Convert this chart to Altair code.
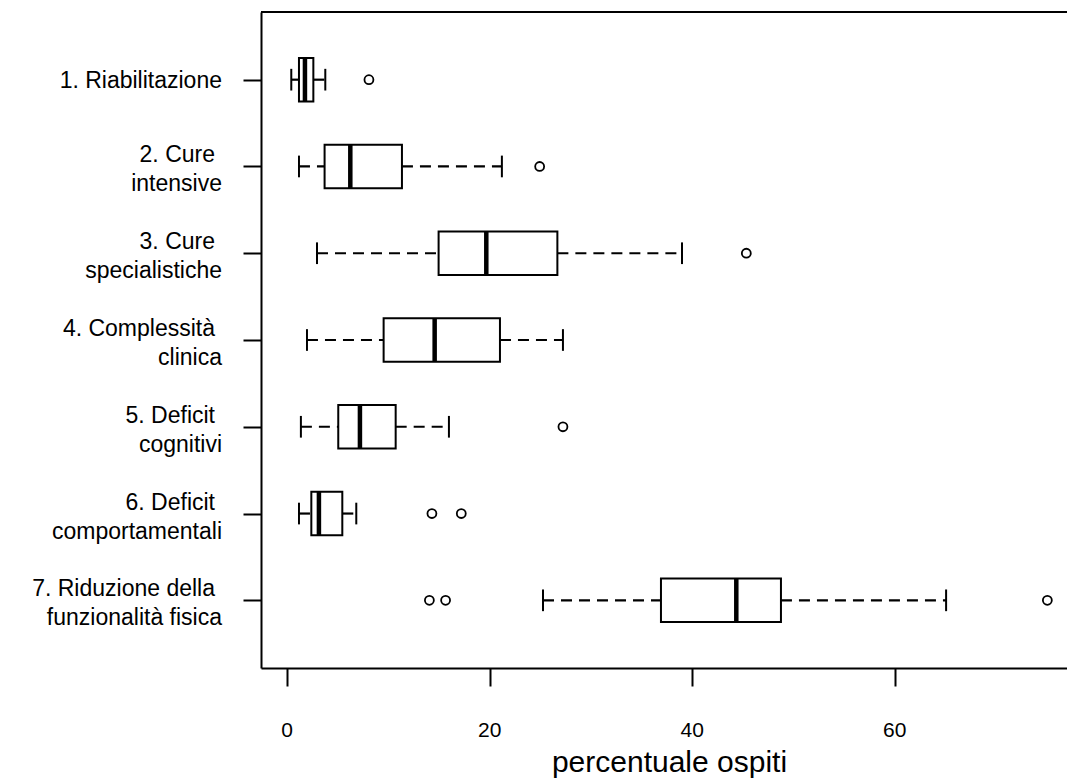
import altair as alt
import pandas as pd

# Category labels (first and second line) and box position (top to bottom)
label_top = ["1. Riabilitazione", "2. Cure", "3. Cure", "4. Complessità",
             "5. Deficit", "6. Deficit", "7. Riduzione della"]
label_bottom = ["", "intensive", "specialistiche", "clinica",
                "cognitivi", "comportamentali", "funzionalità fisica"]
positions = [1, 2, 3, 4, 5, 6, 7]

# Five-number summaries per category (percentuale ospiti)
whisker_low = [0.41, 1.17, 2.95, 1.96, 1.36, 1.17, 25.27]
q1 = [1.17, 3.70, 14.96, 9.53, 5.05, 2.39, 36.92]
median = [1.76, 6.24, 19.67, 14.57, 7.19, 3.14, 44.36]
q3 = [2.59, 11.34, 26.69, 21.02, 10.72, 5.45, 48.77]
whisker_high = [3.77, 21.21, 39.0, 27.24, 15.98, 6.83, 65.08]
outliers = [[8.08], [24.94], [45.35], [], [27.24], [14.30, 17.2],
            [14.05, 15.65, 75.08]]

x_ticks = [0, 20, 40, 60]
x_title = "percentuale ospiti"

FONT = "Liberation Sans"
W, H = 806, 656
HALF = 0.25      # half box height, in category units
CAP = 0.125      # half whisker-cap height

stats = pd.DataFrame({
    "pos": positions, "top": label_top, "bottom": label_bottom,
    "wlo": whisker_low, "q1": q1, "med": median, "q3": q3, "whi": whisker_high,
})
out_df = pd.DataFrame(
    [{"pos": p, "v": v} for p, vals in zip(positions, outliers) for v in vals]
)
tick_df = pd.DataFrame({"v": x_ticks, "lab": [str(t) for t in x_ticks]})

x_scale = alt.Scale(domain=[-2.58, 77.02], nice=False, zero=False)
y_scale = alt.Scale(domain=[0.22, 7.78], reverse=True, nice=False, zero=False)

x_axis = alt.Axis(values=x_ticks, title=None, grid=False, labels=False,
                  tickSize=18, tickWidth=2, tickColor="black",
                  domainColor="black", domainWidth=2)
y_axis = alt.Axis(values=positions, title=None, grid=False, labels=False,
                  tickSize=18, tickWidth=2, tickColor="black",
                  domainColor="black", domainWidth=2)


def X(field):
    return alt.X(field, scale=x_scale, axis=x_axis)


def Y(field):
    return alt.Y(field, scale=y_scale, axis=y_axis)


base = alt.Chart(stats).transform_calculate(
    lo=f"datum.pos - {HALF}", hi=f"datum.pos + {HALF}",
    clo=f"datum.pos - {CAP}", chi=f"datum.pos + {CAP}",
)

dash = [11, 7]

lower_whisker = base.mark_rule(color="black", strokeWidth=2.2, strokeDash=dash).encode(
    x=X("wlo:Q"), x2="q1:Q", y=Y("pos:Q"),
)
upper_whisker = base.mark_rule(color="black", strokeWidth=2.2, strokeDash=dash).encode(
    x=X("q3:Q"), x2="whi:Q", y=Y("pos:Q"),
)
boxes = base.mark_rect(fill="white", stroke="black", strokeWidth=2).encode(
    x=X("q1:Q"), x2="q3:Q", y=Y("lo:Q"), y2="hi:Q",
)
medians = base.mark_rule(color="black", strokeWidth=4.5, strokeCap="butt").encode(
    x=X("med:Q"), y=Y("lo:Q"), y2="hi:Q",
)
caps_low = base.mark_rule(color="black", strokeWidth=2).encode(
    x=X("wlo:Q"), y=Y("clo:Q"), y2="chi:Q",
)
caps_high = base.mark_rule(color="black", strokeWidth=2).encode(
    x=X("whi:Q"), y=Y("clo:Q"), y2="chi:Q",
)
points = alt.Chart(out_df).mark_point(
    shape="circle", filled=False, color="black", size=80, strokeWidth=1.8, opacity=1
).encode(x=X("v:Q"), y=Y("pos:Q"))

# Category labels drawn to the left of the plot frame
single = alt.Chart(stats).transform_filter("datum.bottom == ''").mark_text(
    align="right", baseline="alphabetic", font=FONT, fontSize=23, color="black", dy=8
).encode(x=alt.value(-39), y=Y("pos:Q"), text="top:N")
first_line = alt.Chart(stats).transform_filter("datum.bottom != ''").mark_text(
    align="right", baseline="alphabetic", font=FONT, fontSize=23, color="black", dy=-4
).encode(x=alt.value(-46), y=Y("pos:Q"), text="top:N")
second_line = alt.Chart(stats).transform_filter("datum.bottom != ''").mark_text(
    align="right", baseline="alphabetic", font=FONT, fontSize=23, color="black", dy=25
).encode(x=alt.value(-39), y=Y("pos:Q"), text="bottom:N")

# Tick labels under the x axis
tick_labels = alt.Chart(tick_df).mark_text(
    align="center", baseline="alphabetic", font=FONT, fontSize=21, color="black"
).encode(x=X("v:Q"), y=alt.value(725), text="lab:N")

# Top edge of the plot frame
top_edge = alt.Chart(pd.DataFrame({"k": [0]})).mark_rule(color="black", strokeWidth=2).encode(
    x=alt.value(0), x2=alt.value(W), y=alt.value(0)
)

# X-axis title
title = alt.Chart(pd.DataFrame({"t": [x_title]})).mark_text(
    align="center", baseline="alphabetic", font=FONT, fontSize=30, color="black"
).encode(x=alt.value(408.5), y=alt.value(760), text="t:N")

chart = alt.layer(
    lower_whisker, upper_whisker, boxes, medians, caps_low, caps_high, points,
    single, first_line, second_line, tick_labels, top_edge, title,
).properties(
    width=W, height=H,
    autosize=alt.AutoSizeParams(type="none"),
    padding={"left": 261, "top": 12, "right": 0, "bottom": 110},
    background="white",
).configure_view(stroke=None)

chart.save("out.html", embed_options={"renderer": "svg", "actions": False})
